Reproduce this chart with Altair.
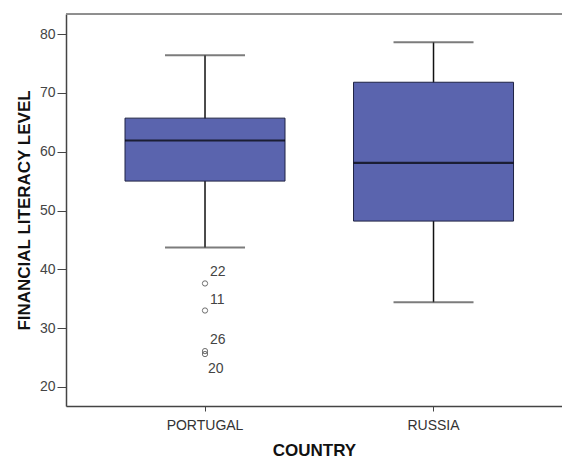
import altair as alt
import pandas as pd

# Box-plot summary per country
countries = ["PORTUGAL", "RUSSIA"]
lower_whisker = [43.7, 34.4]
q1 = [55.0, 48.2]
median = [61.9, 58.1]
q3 = [65.7, 71.8]
upper_whisker = [76.4, 78.6]

# Outlying cases (case id, value) for Portugal
outlier_country = ["PORTUGAL", "PORTUGAL", "PORTUGAL", "PORTUGAL"]
outlier_ids = ["22", "11", "26", "20"]
outlier_values = [37.6, 33.0, 26.1, 25.6]
outlier_label_pos = ["above", "above", "above", "below"]

y_ticks = [20, 30, 40, 50, 60, 70, 80]

stats = pd.DataFrame({
    "country": countries,
    "lo": lower_whisker,
    "q1": q1,
    "med": median,
    "q3": q3,
    "hi": upper_whisker,
})
outliers = pd.DataFrame({
    "country": outlier_country,
    "id": outlier_ids,
    "value": outlier_values,
    "pos": outlier_label_pos,
})

FONT = "Liberation Sans"
W, H = 496, 392

x_scale = alt.Scale(domain=countries, paddingInner=0, paddingOuter=0.0853, align=0.635)
y_scale = alt.Scale(domain=[16.77, 83.4], nice=False, zero=False)

x_enc = alt.X("country:N", scale=x_scale, sort=countries,
              axis=alt.Axis(title="COUNTRY", labelAngle=0, labelFont=FONT, labelFontSize=14,
                            labelColor="#333333", labelPadding=7, tickSize=5, tickColor="#444444",
                            domainColor="#444444", domainWidth=1.5, titleFont=FONT,
                            titleFontSize=17, titleFontWeight="bold", titleColor="#111111",
                            titlePadding=10))

base = alt.Chart(stats)

whisker = base.mark_rule(color="#111111", strokeWidth=1.5).encode(
    x=x_enc,
    y=alt.Y("lo:Q", scale=y_scale,
            axis=alt.Axis(title="FINANCIAL LITERACY LEVEL", values=y_ticks, grid=False,
                          labelFont=FONT, labelFontSize=14, labelColor="#444444",
                          tickSize=9, tickColor="#444444", labelPadding=2,
                          domainColor="#444444", domainWidth=1.5, titleFont=FONT,
                          titleFontSize=17, titleFontWeight="bold", titleColor="#111111",
                          titlePadding=6)),
    y2="hi:Q",
)

caps_hi = base.mark_tick(color="#444444", size=80, thickness=2).encode(
    x=alt.X("country:N", scale=x_scale, sort=countries), y=alt.Y("hi:Q", scale=y_scale))
caps_lo = base.mark_tick(color="#444444", size=80, thickness=2).encode(
    x=alt.X("country:N", scale=x_scale, sort=countries), y=alt.Y("lo:Q", scale=y_scale))

box = base.mark_bar(size=160, color="#5a64ae", stroke="#1f2344", strokeWidth=1).encode(
    x=alt.X("country:N", scale=x_scale, sort=countries),
    y=alt.Y("q1:Q", scale=y_scale),
    y2="q3:Q",
)

med = base.mark_tick(color="#000000", size=160, thickness=2.2).encode(
    x=alt.X("country:N", scale=x_scale, sort=countries), y=alt.Y("med:Q", scale=y_scale))

obase = alt.Chart(outliers)
pts = obase.mark_point(shape="circle", filled=False, color="#333333", size=28, strokeWidth=1).encode(
    x=alt.X("country:N", scale=x_scale, sort=countries), y=alt.Y("value:Q", scale=y_scale))

lab_above = obase.transform_filter(alt.datum.pos == "above").mark_text(
    align="left", baseline="middle", dx=5, dy=-11, font=FONT, fontSize=14, color="#444444"
).encode(x=alt.X("country:N", scale=x_scale, sort=countries),
         y=alt.Y("value:Q", scale=y_scale), text="id:N")
lab_below = obase.transform_filter(alt.datum.pos == "below").mark_text(
    align="left", baseline="middle", dx=3, dy=15, font=FONT, fontSize=14, color="#444444"
).encode(x=alt.X("country:N", scale=x_scale, sort=countries),
         y=alt.Y("value:Q", scale=y_scale), text="id:N")

# top border of the plot frame
top_line = base.mark_rule(color="#888888", strokeWidth=1.5).encode(
    x=alt.value(0), x2=alt.value(W), y=alt.value(0))

chart = alt.layer(whisker, caps_hi, caps_lo, box, med, pts, lab_above, lab_below, top_line).properties(
    width=W, height=H,
    autosize=alt.AutoSizeParams(type="none"),
    padding={"left": 66, "top": 14, "right": 0, "bottom": 53},
).configure_view(stroke=None).configure(background="white")

chart.save("out.html", embed_options={"renderer": "svg", "actions": False})
